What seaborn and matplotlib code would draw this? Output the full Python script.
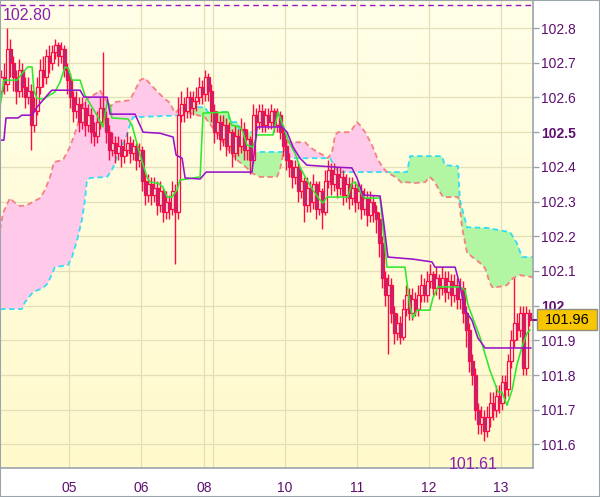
import numpy as np
import pandas as pd
import matplotlib
matplotlib.use("Agg")
import matplotlib.pyplot as plt
import matplotlib.transforms as mtransforms
from matplotlib.patches import Rectangle
import seaborn as sns

# hourly candles, index 0..176
closes = [
    102.66, 102.64, 102.74, 102.70, 102.66, 102.62, 102.68, 102.63, 102.60, 102.62,
    102.52, 102.56, 102.63, 102.68, 102.66, 102.72, 102.70, 102.73, 102.75, 102.72,
    102.74, 102.68, 102.65, 102.60, 102.56, 102.58, 102.53, 102.57, 102.52, 102.55,
    102.50, 102.49, 102.53, 102.57, 102.54, 102.50, 102.45, 102.47, 102.44, 102.46,
    102.43, 102.45, 102.47, 102.44, 102.46, 102.42, 102.45, 102.36, 102.32, 102.35,
    102.32, 102.34, 102.29, 102.33, 102.27, 102.30, 102.28, 102.33, 102.27, 102.55,
    102.58, 102.56, 102.60, 102.57, 102.59, 102.60, 102.63, 102.61, 102.66, 102.62,
    102.56, 102.50, 102.53, 102.48, 102.52, 102.46, 102.50, 102.44, 102.49, 102.46,
    102.51, 102.45, 102.48, 102.42, 102.55, 102.53, 102.56, 102.52, 102.55, 102.53,
    102.56, 102.52, 102.55, 102.50, 102.46, 102.42, 102.40, 102.37, 102.40, 102.33,
    102.36, 102.29, 102.34, 102.30, 102.35, 102.28, 102.33, 102.27, 102.36, 102.39,
    102.35, 102.38, 102.34, 102.37, 102.32, 102.35, 102.31, 102.34, 102.30, 102.33,
    102.28, 102.31, 102.26, 102.30, 102.27, 102.25, 102.18, 102.08, 102.03, 102.06,
    101.98, 101.92, 101.95, 101.91, 101.99, 102.03, 101.98, 102.02, 101.99, 102.03,
    102.06, 102.03, 102.07, 102.09, 102.05, 102.08, 102.05, 102.08, 102.04, 102.07,
    102.03, 102.06, 102.02, 102.05, 101.98, 101.93, 101.84, 101.80, 101.70, 101.66,
    101.68, 101.64, 101.68, 101.72, 101.70, 101.74, 101.72, 101.78, 101.76, 101.84,
    101.90, 101.95, 101.93, 101.98, 101.82, 101.98, 101.96,
]
first_open = 102.62
highs = [
    102.68, 102.70, 102.80, 102.77, 102.72, 102.68, 102.71, 102.70, 102.66, 102.66,
    102.64, 102.60, 102.66, 102.71, 102.72, 102.74, 102.75, 102.75, 102.77, 102.76,
    102.76, 102.75, 102.70, 102.67, 102.62, 102.62, 102.60, 102.60, 102.59, 102.58,
    102.57, 102.53, 102.56, 102.60, 102.73, 102.56, 102.52, 102.50, 102.49, 102.49,
    102.48, 102.48, 102.50, 102.49, 102.48, 102.47, 102.47, 102.46, 102.38, 102.38,
    102.37, 102.37, 102.36, 102.36, 102.34, 102.33, 102.32, 102.36, 102.35, 102.60,
    102.62, 102.60, 102.63, 102.62, 102.62, 102.63, 102.66, 102.65, 102.68, 102.67,
    102.64, 102.58, 102.56, 102.55, 102.55, 102.54, 102.53, 102.51, 102.52, 102.51,
    102.54, 102.53, 102.51, 102.49, 102.58, 102.57, 102.58, 102.58, 102.57, 102.57,
    102.58, 102.57, 102.57, 102.56, 102.52, 102.48, 102.44, 102.42, 102.42, 102.41,
    102.39, 102.37, 102.37, 102.36, 102.38, 102.36, 102.36, 102.34, 102.39, 102.42,
    102.41, 102.41, 102.40, 102.40, 102.39, 102.38, 102.37, 102.37, 102.36, 102.36,
    102.35, 102.34, 102.33, 102.33, 102.32, 102.29, 102.27, 102.20, 102.10, 102.09,
    102.08, 102.00, 101.98, 101.97, 102.02, 102.06, 102.05, 102.05, 102.04, 102.06,
    102.09, 102.08, 102.10, 102.12, 102.10, 102.11, 102.09, 102.11, 102.10, 102.10,
    102.09, 102.09, 102.08, 102.08, 102.07, 102.00, 101.95, 101.86, 101.82, 101.72,
    101.71, 101.70, 101.71, 101.75, 101.75, 101.77, 101.77, 101.80, 101.80, 101.86,
    101.93, 102.08, 101.98, 102.00, 102.00, 102.00, 101.99,
]
lows = [
    102.60, 102.61, 102.62, 102.66, 102.62, 102.58, 102.60, 102.60, 102.57, 102.58,
    102.45, 102.50, 102.55, 102.61, 102.63, 102.64, 102.67, 102.68, 102.71, 102.69,
    102.70, 102.66, 102.61, 102.57, 102.53, 102.54, 102.50, 102.51, 102.49, 102.50,
    102.47, 102.46, 102.47, 102.51, 102.52, 102.47, 102.42, 102.43, 102.41, 102.42,
    102.40, 102.41, 102.43, 102.41, 102.42, 102.39, 102.40, 102.33, 102.29, 102.30,
    102.29, 102.30, 102.26, 102.27, 102.24, 102.25, 102.25, 102.26, 102.12, 102.25,
    102.53, 102.53, 102.54, 102.54, 102.55, 102.56, 102.58, 102.58, 102.59, 102.59,
    102.53, 102.47, 102.48, 102.45, 102.46, 102.43, 102.44, 102.40, 102.42, 102.43,
    102.44, 102.42, 102.42, 102.38, 102.41, 102.50, 102.51, 102.50, 102.50, 102.51,
    102.51, 102.50, 102.50, 102.48, 102.43, 102.39, 102.37, 102.34, 102.35, 102.30,
    102.31, 102.24, 102.27, 102.27, 102.28, 102.25, 102.26, 102.22, 102.26, 102.34,
    102.32, 102.33, 102.31, 102.32, 102.29, 102.30, 102.28, 102.29, 102.27, 102.28,
    102.25, 102.26, 102.23, 102.24, 102.24, 102.21, 102.14, 102.05, 102.00, 101.86,
    101.95, 101.89, 101.90, 101.89, 101.90, 101.97, 101.96, 101.96, 101.97, 101.97,
    102.01, 102.01, 102.01, 102.05, 102.03, 102.03, 102.02, 102.03, 102.01, 102.02,
    102.00, 102.01, 101.99, 101.99, 101.95, 101.88, 101.81, 101.77, 101.67, 101.63,
    101.63, 101.61, 101.62, 101.65, 101.67, 101.68, 101.69, 101.70, 101.73, 101.74,
    101.82, 101.88, 101.90, 101.91, 101.80, 101.80, 101.94,
]

# ichimoku lines (candle index, price)
tenkan_x = [-0.5, 0.8, 5.2, 7.2, 8.8, 10.2, 10.8, 11.8, 13.8, 17.8, 19.5, 21.2, 22.2, 23.5,
            26.2, 27.8, 31.8, 33.8, 35.2, 36.2, 36.8, 42.2, 43.5, 46.2, 48.5, 49.5, 52.2,
            53.8, 55.2, 56.8, 58.5, 59.5, 66.2, 67.2, 75.5, 76.8, 79.5, 80.5, 81.8, 83.8,
            85.2, 90.5, 92.2, 93.8, 95.5, 97.8, 99.5, 101.8, 103.8, 106.2, 107.2, 108.5,
            115.5, 116.8, 117.8, 118.8, 120.2, 121.2, 126.2, 128.5, 134.5, 136.2, 137.2,
            138.5, 142.8, 143.8, 145.5, 152.8, 154.5, 155.5, 159.5, 162.8, 165.5, 166.8,
            168.5, 170.2, 171.8, 173.5, 175.2, 176.2]
tenkan_y = [102.572, 102.650, 102.650, 102.673, 102.688, 102.688, 102.621, 102.598, 102.595,
            102.616, 102.644, 102.688, 102.685, 102.650, 102.650, 102.607, 102.549, 102.515,
            102.587, 102.578, 102.541, 102.538, 102.520, 102.434, 102.371, 102.356, 102.353,
            102.342, 102.313, 102.313, 102.333, 102.362, 102.371, 102.555, 102.558, 102.520,
            102.515, 102.500, 102.463, 102.457, 102.492, 102.492, 102.558, 102.520, 102.477,
            102.440, 102.399, 102.362, 102.333, 102.304, 102.296, 102.313, 102.313, 102.353,
            102.356, 102.342, 102.319, 102.310, 102.310, 102.111, 102.111, 101.996, 101.964,
            101.987, 101.987, 102.022, 102.054, 102.054, 102.045, 102.002, 101.909, 101.814,
            101.751, 101.751, 101.713, 101.757, 101.829, 101.881, 101.921, 101.930]

kijun_x = [-0.5, 0.8, 1.5, 5.5, 6.8, 10.2, 11.8, 16.2, 16.8, 26.2, 27.5, 35.2, 36.2, 44.5,
           47.2, 52.8, 57.2, 58.2, 60.2, 61.2, 66.2, 68.2, 83.5, 85.2, 93.5, 95.2, 97.2,
           99.5, 101.8, 111.8, 116.8, 118.5, 120.5, 126.2, 127.5, 128.8, 137.2, 143.5,
           144.5, 151.2, 152.8, 154.5, 156.8, 158.8, 161.2, 176.5]
kijun_y = [102.477, 102.477, 102.541, 102.541, 102.549, 102.549, 102.572, 102.616, 102.621,
           102.621, 102.601, 102.601, 102.552, 102.552, 102.500, 102.497, 102.486, 102.434,
           102.425, 102.368, 102.365, 102.385, 102.385, 102.515, 102.515, 102.500, 102.457,
           102.425, 102.405, 102.399, 102.397, 102.368, 102.319, 102.316, 102.232, 102.140,
           102.134, 102.126, 102.111, 102.111, 102.059, 101.987, 101.958, 101.907, 101.878,
           101.878]

span_b_x = [-0.5, 0.5, 2.8, 4.5, 6.2, 8.5, 10.5, 12.8, 14.5, 16.2, 17.5, 20.5, 22.8, 25.2,
            26.8, 27.8, 31.8, 32.8, 36.2, 37.8, 42.8, 46.2, 47.8, 50.5, 53.8, 56.2, 57.8,
            60.5, 62.8, 67.8, 70.5, 73.8, 76.2, 78.5, 81.8, 83.5, 86.2, 91.8, 92.8, 93.8,
            95.2, 101.2, 102.8, 105.2, 107.2, 108.8, 110.2, 111.2, 112.2, 116.2, 118.5,
            119.5, 121.2, 123.5, 125.5, 127.2, 128.5, 131.8, 133.5, 135.2, 137.2, 141.2,
            142.8, 144.5, 146.2, 147.2, 152.2, 152.8, 153.5, 155.2, 159.5, 161.2, 162.8,
            163.8, 168.5, 170.5, 172.8, 177.2]
span_b_y = [102.218, 102.267, 102.310, 102.296, 102.287, 102.290, 102.299, 102.310, 102.333,
            102.371, 102.414, 102.420, 102.457, 102.515, 102.572, 102.592, 102.613, 102.621,
            102.572, 102.587, 102.592, 102.650, 102.656, 102.630, 102.601, 102.584, 102.555,
            102.578, 102.555, 102.543, 102.512, 102.471, 102.443, 102.420, 102.397, 102.382,
            102.371, 102.371, 102.391, 102.434, 102.471, 102.471, 102.457, 102.443, 102.434,
            102.425, 102.443, 102.492, 102.500, 102.500, 102.529, 102.520, 102.500, 102.463,
            102.420, 102.397, 102.385, 102.368, 102.353, 102.356, 102.353, 102.356, 102.371,
            102.356, 102.327, 102.313, 102.313, 102.284, 102.226, 102.152, 102.123, 102.108,
            102.065, 102.051, 102.059, 102.079, 102.088, 102.082]

span_a_x = [-0.5, 6.8, 7.8, 10.5, 13.8, 15.5, 17.8, 22.2, 23.5, 25.2, 26.8, 27.8, 28.5, 29.5,
            35.2, 36.8, 37.8, 38.8, 41.2, 42.2, 43.5, 43.8, 60.5, 61.8, 67.8, 68.8, 75.5,
            76.2, 78.8, 79.5, 83.8, 84.5, 93.8, 96.8, 109.5, 112.2, 135.2, 136.2, 146.8,
            147.8, 152.2, 152.8, 155.2, 161.8, 169.5, 171.8, 173.5, 177.2]
span_a_y = [101.990, 101.990, 102.010, 102.039, 102.051, 102.065, 102.111, 102.117, 102.140,
            102.189, 102.247, 102.304, 102.362, 102.368, 102.371, 102.391, 102.411, 102.440,
            102.477, 102.506, 102.535, 102.543, 102.549, 102.572, 102.572, 102.558, 102.558,
            102.529, 102.529, 102.500, 102.500, 102.443, 102.443, 102.425, 102.425, 102.385,
            102.385, 102.431, 102.431, 102.405, 102.402, 102.304, 102.226, 102.224, 102.212,
            102.180, 102.140, 102.140]

day_pos = [22.5, 46.5, 67.5, 70.5, 94.5, 118.5, 142.5, 166.5]
day_labels = ["05", "06", "08", "", "10", "11", "12", "13"]
price_ticks = [101.6, 101.7, 101.8, 101.9, 102.0, 102.1, 102.2, 102.3, 102.4, 102.5, 102.6, 102.7, 102.8]
price_labels = ["101.6", "101.7", "101.8", "101.9", "102", "102.1", "102.2", "102.3", "102.4",
                "102.5", "102.6", "102.7", "102.8"]
top_line = 102.866

sns.set_style("white")
plt.rcParams["font.family"] = ["Liberation Sans", "DejaVu Sans"]

RED = "#ff0a46"
PURPLE_TXT = "#5e0f70"

n = len(closes)
idx = np.arange(n)
opens = [first_open] + closes[:-1]
df = pd.DataFrame({"i": idx, "open": opens, "close": closes, "high": highs, "low": lows})
df["up"] = df["close"] >= df["open"]

fig = plt.figure(figsize=(6, 4.97), dpi=100)
ax = fig.add_axes([0, 29 / 497, 533 / 600, 468 / 497])
x0, x1 = -0.5, 177.17
y0, y1 = 101.532, 102.881
ax.set_xlim(x0, x1)
ax.set_ylim(y0, y1)

# yellow gradient background
top_c = np.array([255, 255, 232]) / 255
bot_c = np.array([255, 249, 204]) / 255
t = np.linspace(0, 1, 256)[:, None]
grad = (top_c * (1 - t) + bot_c * t)[:, None, :]
ax.imshow(grad, extent=(x0, x1, y0, y1), origin="upper", aspect="auto", zorder=0)

for p in price_ticks:
    ax.axhline(p, color="#e3dfb8", lw=0.9, zorder=0.5)
for d in day_pos:
    ax.axvline(d, color="#e3dfb8", lw=0.9, zorder=0.5)

# cloud
xs = np.linspace(x0, x1, 3000)
a = np.interp(xs, span_a_x, span_a_y)
b = np.interp(xs, span_b_x, span_b_y)
ax.fill_between(xs, a, b, where=b >= a, interpolate=True, color="#ffc9ea", lw=0, zorder=1)
ax.fill_between(xs, a, b, where=a > b, interpolate=True, color="#b2f5a2", lw=0, zorder=1)
ax.plot(span_a_x, span_a_y, color="#33ddf5", lw=1.3, ls=(0, (3, 2)), zorder=2)
ax.plot(span_b_x, span_b_y, color="#f58080", lw=1.3, ls=(0, (3, 2)), zorder=2)

# candles
ax.vlines(df["i"], df["low"], df["high"], color=RED, lw=1, zorder=3)
body_lo = df[["open", "close"]].min(axis=1)
body_h = (df["close"] - df["open"]).abs().clip(lower=0.004)
faces = np.where(df["up"], "#fffbe0", "#a3307f")
ax.bar(df["i"], body_h, bottom=body_lo, width=0.88, color=faces, edgecolor=RED,
       linewidth=0.9, zorder=3.5)

lines = pd.concat([
    pd.DataFrame({"x": tenkan_x, "y": tenkan_y, "line": "tenkan"}),
    pd.DataFrame({"x": kijun_x, "y": kijun_y, "line": "kijun"}),
])
sns.lineplot(data=lines, x="x", y="y", hue="line", estimator=None, sort=False,
             palette={"tenkan": "#2ee82e", "kijun": "#9a12c8"}, linewidth=1.15,
             legend=False, ax=ax, zorder=4)

ax.axhline(top_line, color="#9a12c8", lw=1, ls=(0, (4, 3)), zorder=4)

# high / low labels
hi_i = int(np.argmax(highs))
lo_i = int(np.argmin(lows))
ax.text(0.3, 102.836, f"{highs[hi_i]:.2f}", ha="left", va="center", fontsize=11.5,
        color="#8a1fb0", zorder=5)
ax.text(lo_i - 3.8, 101.541, f"{lows[lo_i]:.2f}", ha="center", va="center", fontsize=11.5,
        color="#8a1fb0", zorder=5)

# axes styling
ax.set_xlabel("")
ax.set_ylabel("")
ax.set_xticks(day_pos)
ax.set_xticklabels(day_labels)
ax.yaxis.tick_right()
ax.set_yticks(price_ticks)
ax.set_yticklabels(price_labels)
ax.tick_params(axis="x", length=0, pad=9, labelsize=10, labelcolor=PURPLE_TXT)
ax.tick_params(axis="y", length=4.5, width=1, color="#9ba3ab", pad=1.5, labelsize=10,
               labelcolor=PURPLE_TXT)
for lab in ax.get_yticklabels():
    if lab.get_text() in ("102", "102.5"):
        lab.set_fontweight("bold")
for s in ["top", "left"]:
    ax.spines[s].set_visible(False)
for s in ["right", "bottom"]:
    ax.spines[s].set_color("#9ba3ab")
    ax.spines[s].set_linewidth(1.2)

# last price box
last = closes[-1]
blend = mtransforms.blended_transform_factory(fig.transFigure, ax.transData)
ax.plot([x1, x1 + 2.2], [last, last], color="#7a1a90", lw=1.5, clip_on=False, zorder=6)
fig.patches.append(Rectangle((537 / 600, last - 0.0305), 60 / 600, 0.061, transform=blend,
                             facecolor="#f7c600", edgecolor="#8f8f80", lw=1, zorder=6))
fig.text(567 / 600, last, f"{last:.2f}", transform=blend, ha="center", va="center",
         fontsize=10.5, color="black", zorder=7)

fig.patches.append(Rectangle((0, 0), 1, 1, transform=fig.transFigure, fill=False,
                             edgecolor="#9ba3ab", lw=1.5))

fig.savefig("out.png", dpi=100)
